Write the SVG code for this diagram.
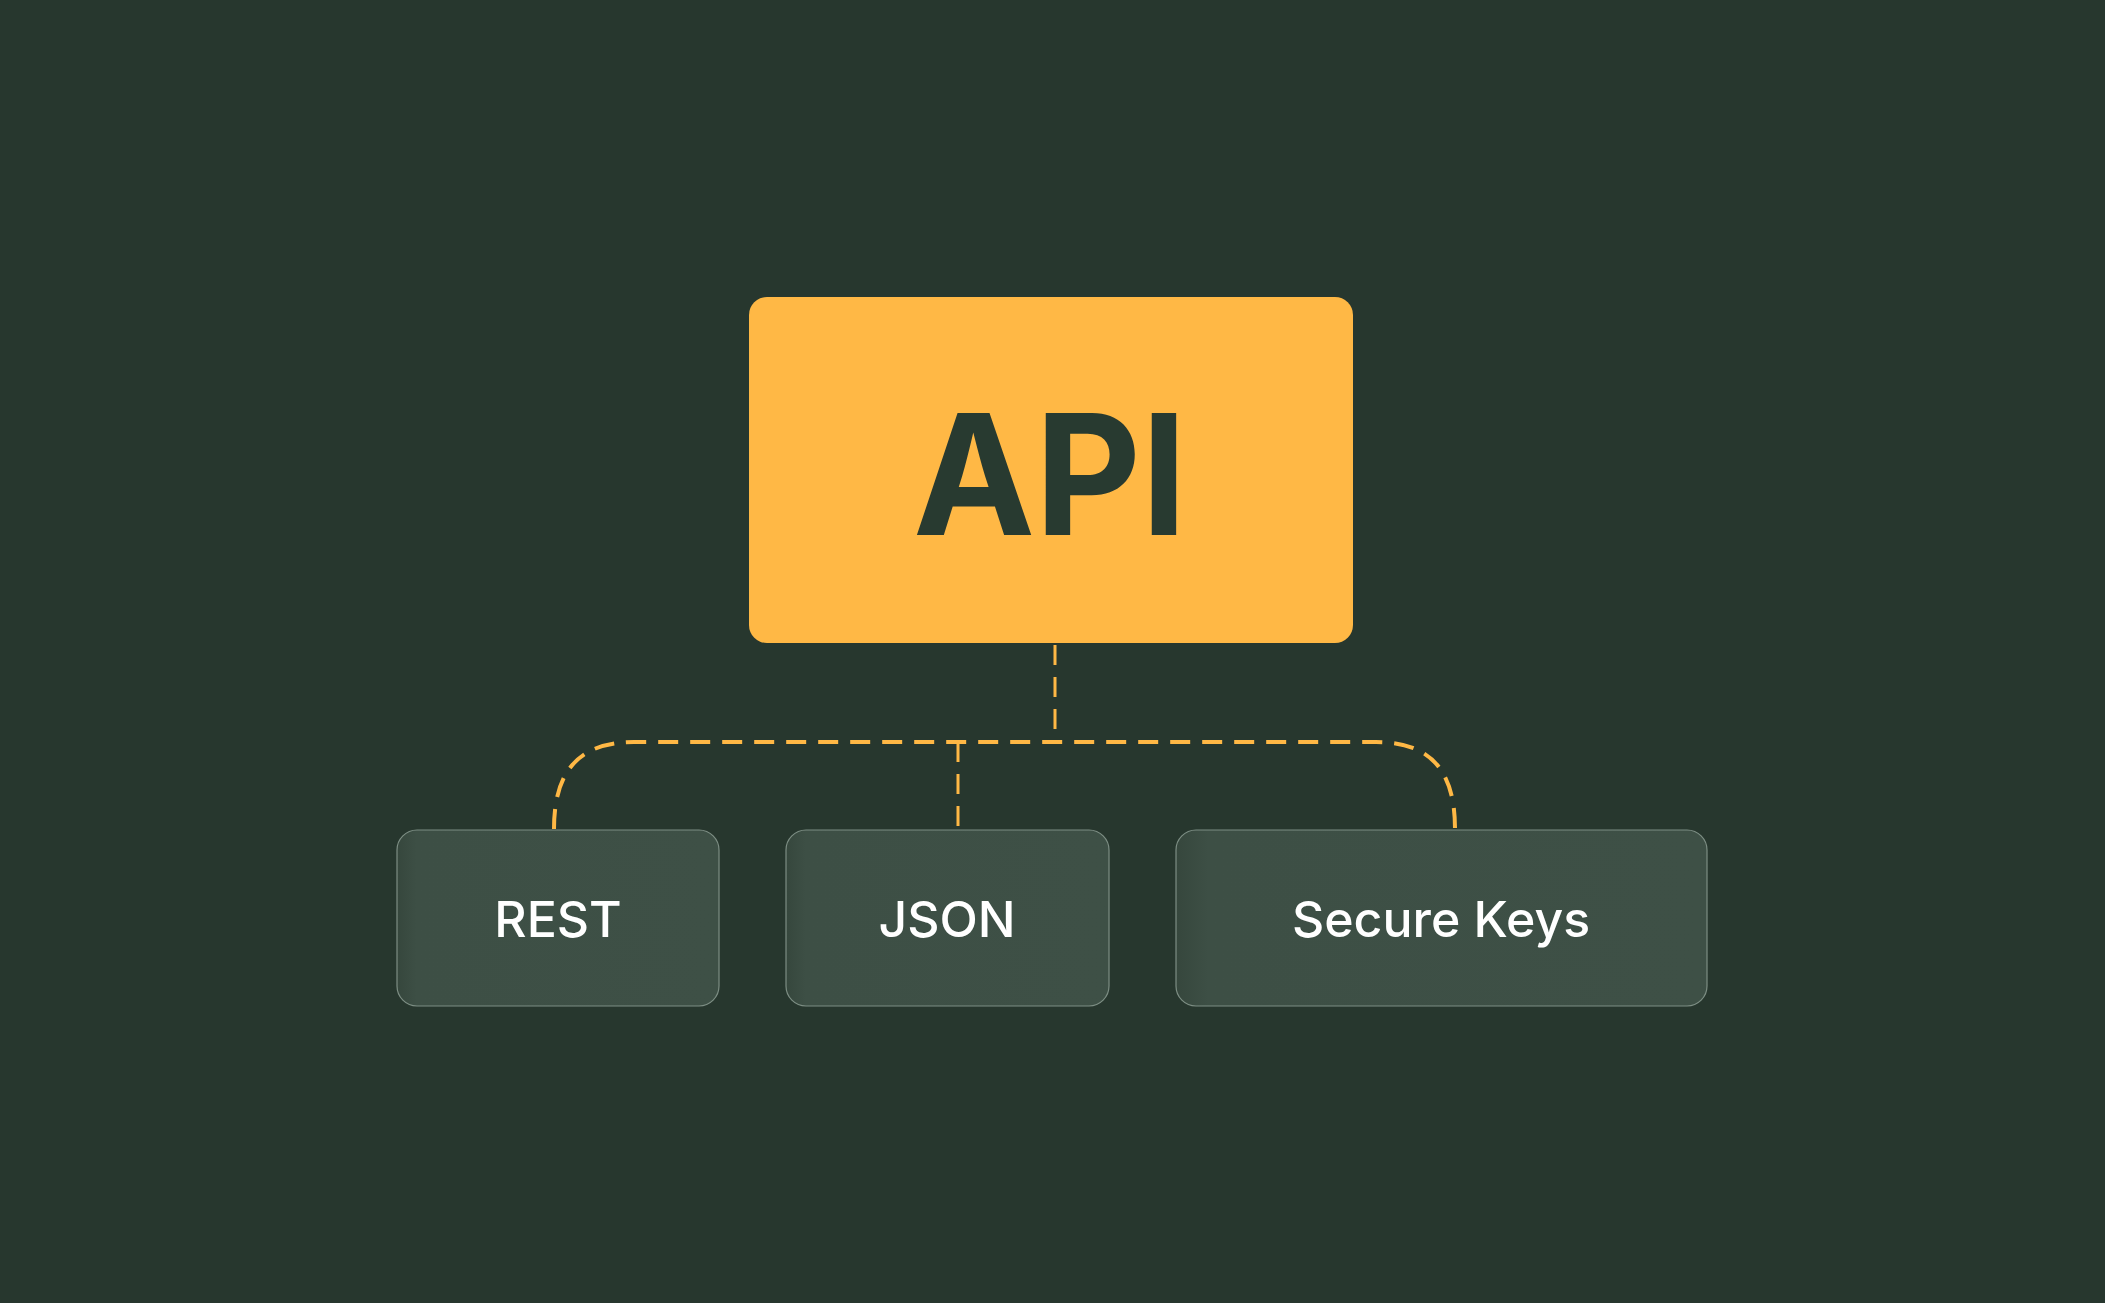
<svg xmlns="http://www.w3.org/2000/svg" width="2105" height="1303" viewBox="0 0 2105 1303">
  <defs>
    <style>
      .node rect { fill: #3d4f45; stroke: #7d8e84; stroke-width: 1.2; }
      .node text { font-family: Inter, "Noto Sans", "Liberation Sans", sans-serif; font-size: 50px; font-weight: 500; fill: #ffffff; text-anchor: middle; }
      .conn { fill: none; stroke: #ffb845; stroke-dasharray: 20 12; }
    </style>
    <linearGradient id="nodeShade" x1="0" y1="0" x2="1" y2="0">
      <stop offset="0" stop-color="#36473d"/>
      <stop offset="0.06" stop-color="#3d4f45"/>
      <stop offset="1" stop-color="#3e5046"/>
    </linearGradient>
  </defs>
  <rect width="2105" height="1303" fill="#27372e"/>

  <g id="connectors">
    <path class="conn" stroke-width="3" d="M1055 645 V742"/>
    <path class="conn" stroke-width="4" d="M554 829 C554 772 578 742 634 742 H1376 C1432 742 1455 772 1455 829"/>
    <path class="conn" stroke-width="3" d="M958 742 V829"/>
  </g>

  <g id="node-api">
    <rect x="749" y="297" width="604" height="346" rx="18" fill="#ffb845"/>
    <text x="913" y="535" font-family="Inter, 'Noto Sans', 'Liberation Sans', sans-serif" font-size="168" font-weight="700" fill="#283a30" textLength="274" lengthAdjust="spacingAndGlyphs">API</text>
  </g>

  <g id="node-rest" class="node">
    <rect x="397" y="830" width="322" height="176" rx="20" style="fill:url(#nodeShade)"/>
    <text x="558" y="937">REST</text>
  </g>

  <g id="node-json" class="node">
    <rect x="786" y="830" width="323" height="176" rx="20" style="fill:url(#nodeShade)"/>
    <text x="947" y="937">JSON</text>
  </g>

  <g id="node-secure-keys" class="node">
    <rect x="1176" y="830" width="531" height="176" rx="20" style="fill:url(#nodeShade)"/>
    <text x="1441" y="937">Secure Keys</text>
  </g>
</svg>
